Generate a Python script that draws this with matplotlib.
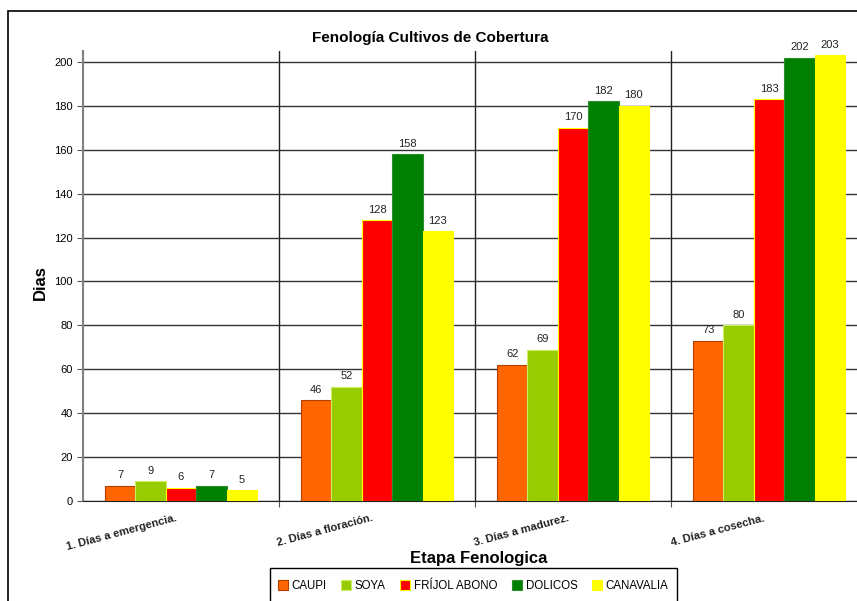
import numpy as np
import matplotlib.pyplot as plt
from matplotlib.patches import Rectangle

plt.rcParams['font.family'] = ['Liberation Sans', 'DejaVu Sans']

etapas = ['1. Días a emergencia.', '2. Días a floración.', '3. Días a madurez.', '4. Días a cosecha.']
cultivos = ['CAUPI', 'SOYA', 'FRÍJOL ABONO', 'DOLICOS', 'CANAVALIA']
caupi = [7, 46, 62, 73]
soya = [9, 52, 69, 80]
frijol = [6, 128, 170, 183]
dolicos = [7, 158, 182, 202]
canavalia = [5, 123, 180, 203]
series = [caupi, soya, frijol, dolicos, canavalia]

colores = ['#FF6600', '#99CC00', '#FF0000', '#008000', '#FFFF00']
bordes = ['#B04000', '#CCEE66', '#FFFF00', '#2E8B2E', '#FFFF00']

fig = plt.figure(figsize=(8.57, 6.01), dpi=100)
# marco exterior del grafico
fig.patches.append(Rectangle((8 / 857, -0.05), 1.0, (601 - 11) / 601 + 0.05,
                             transform=fig.transFigure, fill=False,
                             edgecolor='black', linewidth=1.2))
# marco de la leyenda (se corta por abajo como en el original)
fig.patches.append(Rectangle((270 / 857, -0.05), 407 / 857, (601 - 568) / 601 + 0.05,
                             transform=fig.transFigure, fill=False,
                             edgecolor='black', linewidth=1.0))

ax = fig.add_axes([83 / 857, (601 - 501) / 601, 784 / 857, 450 / 601])
ax.set_xlim(0, 4)
ax.set_ylim(0, 205)

w = 0.155
x = np.arange(4) + 0.5
for i, (vals, c, e, nombre) in enumerate(zip(series, colores, bordes, cultivos)):
    pos = x + (i - 2) * w
    ax.bar(pos, vals, width=w, color=c, edgecolor=e, linewidth=0.8, label=nombre, zorder=3)
    for p, v in zip(pos, vals):
        ax.text(p, v + 2.5, str(v), ha='center', va='bottom', fontsize=8, color='#222222', zorder=4)

ax.set_yticks(np.arange(0, 201, 20))
ax.tick_params(axis='y', labelsize=8, length=4, color='#555555')
ax.set_xticks([1, 2, 3])
ax.set_xticklabels([])
ax.tick_params(axis='x', length=4, color='#555555')
ax.yaxis.grid(True, color='#333333', linewidth=1.0, zorder=0)
for b in [1, 2, 3]:
    ax.axvline(b, color='#222222', linewidth=1.0, zorder=0)

for s in ['top', 'right']:
    ax.spines[s].set_visible(False)
ax.spines['left'].set_color('#808080')
ax.spines['left'].set_linewidth(1.5)
ax.spines['bottom'].set_color('#222222')

for k, et in enumerate(etapas):
    ax.text(k + 0.47, -5.5, et, rotation=15, rotation_mode='anchor', ha='right', va='top',
            fontsize=8, fontweight='bold', color='#222222')

fig.text(430 / 857, 1 - 38 / 601, 'Fenología Cultivos de Cobertura', ha='center', va='center',
         fontsize=11, fontweight='bold')
fig.text(40 / 857, 1 - 283 / 601, 'Dias', ha='center', va='center', rotation=90,
         fontsize=12, fontweight='bold')
fig.text(479 / 857, 1 - 559 / 601, 'Etapa Fenologica', ha='center', va='center',
         fontsize=12, fontweight='bold')

leg = fig.legend(loc='center', bbox_to_anchor=(473 / 857, 1 - 586 / 601), ncol=5,
                 fontsize=8.3, frameon=False,
                 handlelength=0.9, handleheight=0.9, handletextpad=0.3, columnspacing=1.25,
                 borderpad=0.3, borderaxespad=0)

fig.savefig('out.png', dpi=100)
